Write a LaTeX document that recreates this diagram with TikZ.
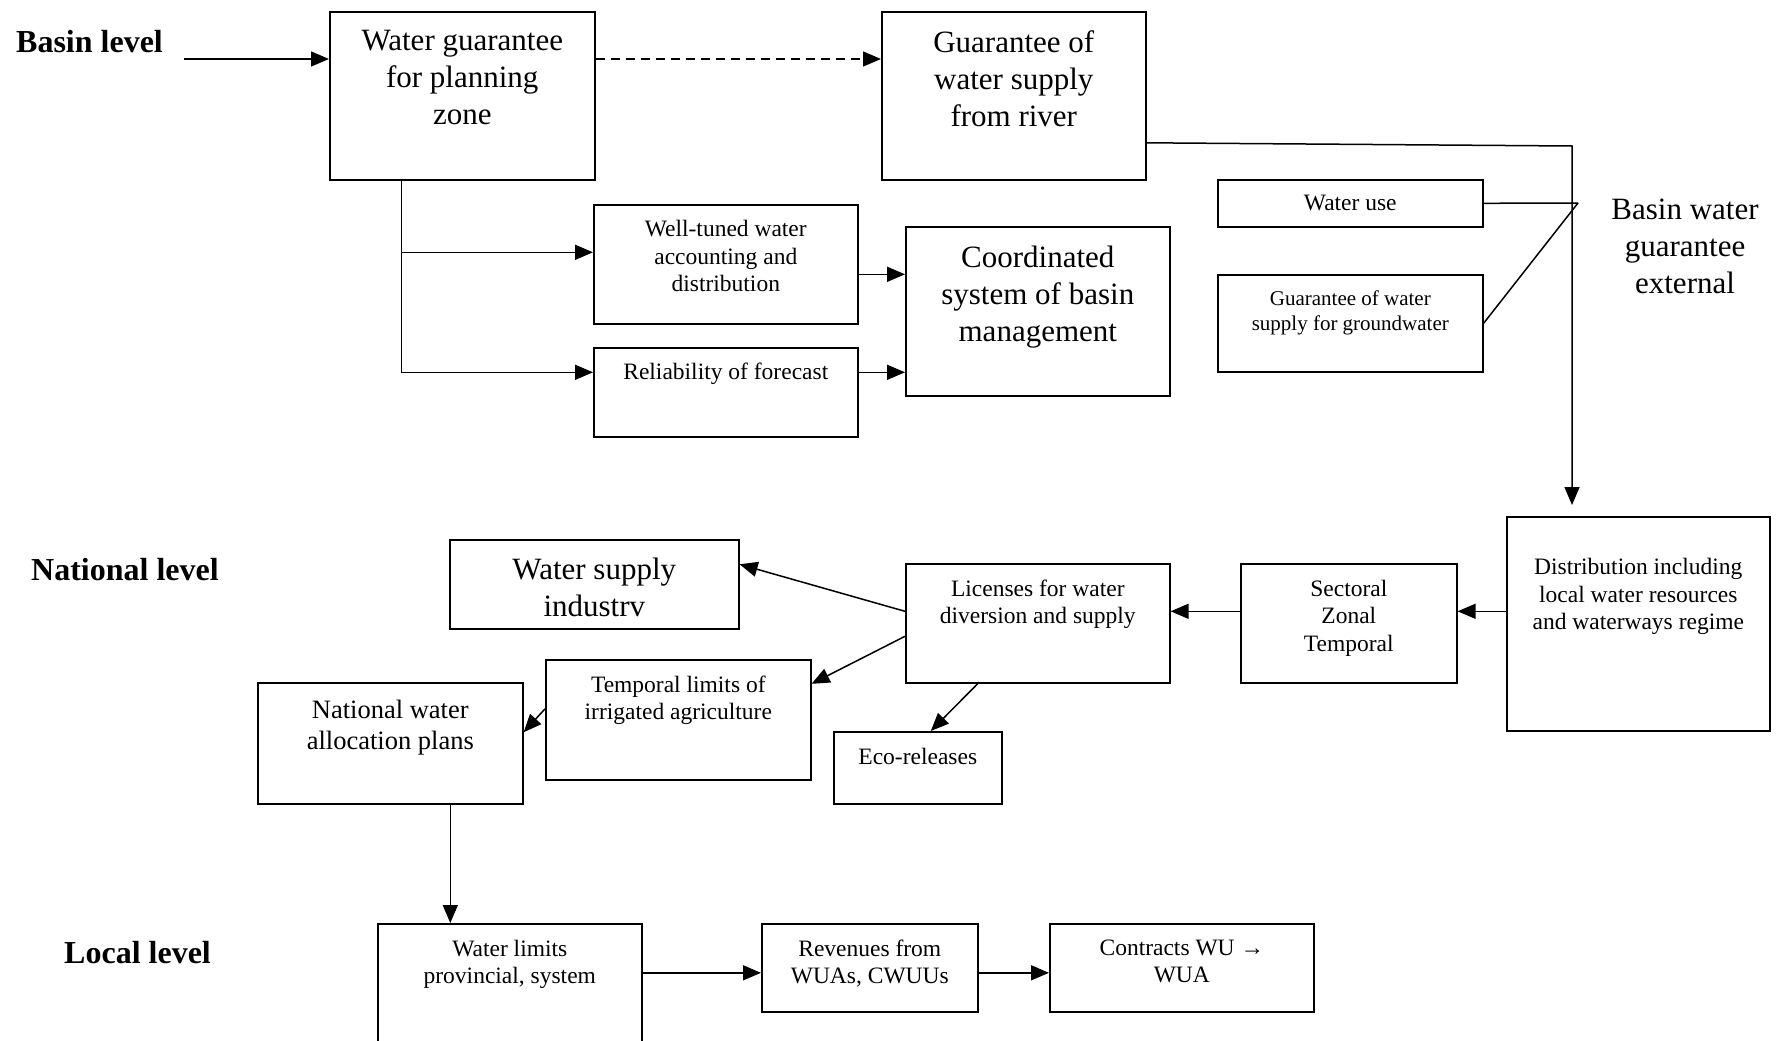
\documentclass[tikz,border=0pt]{standalone}
\usepackage{fontspec}
\setmainfont{Liberation Serif}
\usetikzlibrary{positioning, arrows.meta}

\begin{document}
\begin{tikzpicture}[
        x=1pt, y=-1pt,
        % ボックスのスタイル
        box/.style={rectangle, draw, line width=1.6pt, anchor=north west, inner sep=0pt},
        % ボックス内の文字のスタイル
        txt/.style={anchor=north, align=center, inner sep=0pt},
        big/.style={font=\fontsize{31}{37}\selectfont},
        mid/.style={font=\fontsize{23.5}{27.5}\selectfont},
        sml/.style={font=\fontsize{21}{25}\selectfont},
        % レベル名のスタイル
        level/.style={anchor=west, inner sep=0pt, font=\fontsize{32}{37}\selectfont\bfseries},
        % 矢印のスタイル
        arrow/.style={-{Triangle[length=18pt, width=15pt]}, line width=1.5pt},
        link/.style={line width=1.5pt}
    ]
    \clip (0,0) rectangle (1783,1041);

    % 流域レベル
    \node[level] (lv_basin) at (16,42) {Basin level};
    \node[box, minimum width=265pt, minimum height=168pt, label={[txt, big, yshift=-19pt]north:{Water guarantee\\for planning\\zone}}] (wgpz) at (329,11) {};
    \node[box, minimum width=264pt, minimum height=168pt, label={[txt, big, yshift=-19pt]north:{Guarantee of\\water supply\\from river}}] (river) at (881,11) {};
    \node[box, minimum width=264pt, minimum height=119pt, label={[txt, mid, yshift=-16pt]north:{Well-tuned water\\accounting and\\distribution}}] (acct) at (593,204) {};
    \node[box, minimum width=264pt, minimum height=89pt, label={[txt, mid, yshift=-16pt]north:{Reliability of forecast}}] (fcst) at (593,347) {};
    \node[box, minimum width=264pt, minimum height=169pt, label={[txt, big, yshift=-20pt]north:{Coordinated\\system of basin\\management}}] (coord) at (905,226) {};
    \node[box, mid, minimum width=265pt, minimum height=47pt] (wuse) at (1217,179) {Water use};
    \node[box, minimum width=265pt, minimum height=97pt, label={[txt, sml, yshift=-16.5pt]north:{Guarantee of water\\supply for groundwater}}] (gw) at (1217,274) {};
    \node[big, align=center] (ext) at (1685,246) {Basin water\\guarantee\\external};

    % 国レベル
    \node[level] (lv_nat) at (31,570) {National level};
    \node[box, minimum width=263pt, minimum height=214pt, label={[txt, mid, yshift=-42pt]north:{Distribution including\\local water resources\\and waterways regime}}] (distr) at (1506,516) {};
    \node[box, minimum width=216pt, minimum height=119pt, label={[txt, mid, yshift=-16.5pt]north:{Sectoral\\Zonal\\Temporal}}] (sector) at (1240,563) {};
    \node[box, minimum width=264pt, minimum height=119pt, label={[txt, mid, yshift=-16.5pt]north:{Licenses for water\\diversion and supply}}] (lic) at (905,563) {};
    \node[box, minimum width=289pt, minimum height=89pt, label={[txt, big, yshift=-19pt]north:{Water supply\\industrv}}] (wsi) at (449,539) {};
    \node[box, minimum width=265pt, minimum height=120pt, label={[txt, mid, yshift=-16.5pt]north:{Temporal limits of\\irrigated agriculture}}] (tlim) at (545,659) {};
    \node[box, minimum width=168pt, minimum height=72pt, label={[txt, mid, yshift=-16.5pt]north:{Eco-releases}}] (eco) at (833,731) {};
    \node[box, minimum width=265pt, minimum height=121pt, label={[txt, font=\fontsize{26.5}{30.5}\selectfont, yshift=-18pt]north:{National water\\allocation plans}}] (nwap) at (257,682) {};

    % 地方レベル
    \node[level] (lv_loc) at (64,953) {Local level};
    \node[box, minimum width=264pt, minimum height=140pt, label={[txt, mid, yshift=-16.5pt]north:{Water limits\\provincial, system}}] (wlim) at (377,923) {};
    \node[box, minimum width=216pt, minimum height=88pt, label={[txt, mid, yshift=-16.5pt]north:{Revenues from\\WUAs, CWUUs}}] (rev) at (761,923) {};
    \node[box, minimum width=264pt, minimum height=88pt, label={[txt, mid, yshift=-16.5pt]north:{Contracts WU →\\WUA}}] (contr) at (1049,923) {};

    % 中間座標
    \coordinate (in_basin) at (184,59);
    \coordinate (turn) at (1572,146);
    \coordinate (merge) at (1578,203);

    % 矢印（流域レベル）
    \draw[arrow] (in_basin) -- (in_basin -| wgpz.west);
    \draw[arrow, dash pattern=on 9pt off 6pt] (in_basin -| wgpz.east) -- (in_basin -| river.west);
    \draw[arrow] ([xshift=-61pt]wgpz.south) |- ([yshift=12pt]acct.west);
    \draw[arrow] ([xshift=-61pt]wgpz.south) |- ([yshift=20pt]fcst.west);
    \draw[arrow] ([yshift=-10pt]acct.east) -- ([yshift=-10pt]acct.east -| coord.west);
    \draw[arrow] ([yshift=20pt]fcst.east) -- ([yshift=20pt]fcst.east -| coord.west);
    \draw[arrow, shorten >=11pt] ([yshift=-47pt]river.east) -- (turn) -- (turn |- distr.north);
    \draw[link] (wuse.east) -- (merge);
    \draw[link] (gw.east) -- (merge);

    % 矢印（国レベル）
    \draw[arrow] ([yshift=12pt]sector.east -| distr.west) -- ([yshift=12pt]sector.east);
    \draw[arrow] ([yshift=12pt]sector.west) -- ([yshift=12pt]lic.east);
    \draw[arrow] ([yshift=12pt]lic.west) -- ([yshift=20pt]wsi.east);
    \draw[arrow] ([yshift=-13pt]lic.west) -- ([yshift=36pt]tlim.east);
    \draw[arrow] ([xshift=-60pt]lic.south) -- ([xshift=13pt]eco.north);
    \draw[arrow] ([yshift=11pt]tlim.west) -- ([yshift=11pt]nwap.east);

    % 矢印（地方レベル）
    \draw[arrow] ([xshift=60pt]nwap.south) -- ([xshift=60pt]nwap.south |- wlim.north);
    \draw[arrow] ([yshift=-5pt]rev.west -| wlim.east) -- ([yshift=-5pt]rev.west);
    \draw[arrow] ([yshift=-5pt]rev.east) -- ([yshift=-5pt]contr.west);

\end{tikzpicture}
\end{document}
